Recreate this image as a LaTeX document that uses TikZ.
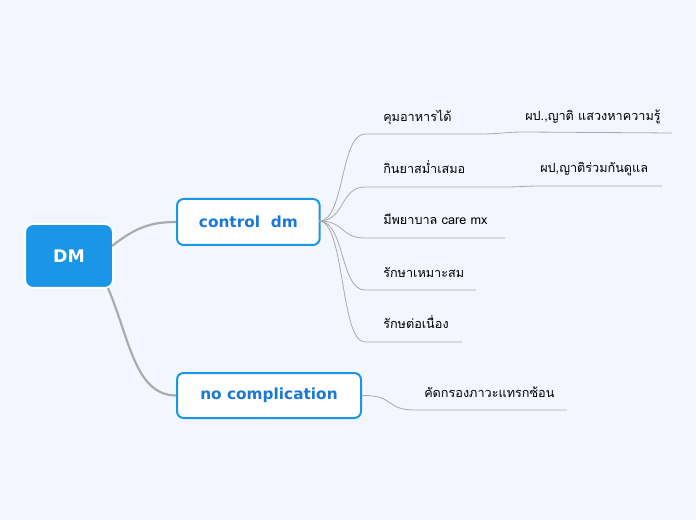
\documentclass[tikz,border=0pt]{standalone}
\usepackage{fontspec}
\setmainfont{DejaVu Sans}
\newfontfamily\thaifont[Script=Thai]{Loma}
\definecolor{bg}{HTML}{F3F6FE}
\definecolor{dmblue}{HTML}{1A96E6}
\definecolor{tblue}{HTML}{1A78D6}
\definecolor{ln}{HTML}{AAAAAA}
\begin{document}
\begin{tikzpicture}[x=0.75pt,y=-0.75pt,
  mainbox/.style={draw=dmblue,line width=1.5pt,rounded corners=5pt,fill=white,text=tblue,font=\bfseries\fontsize{11.5}{13}\selectfont,anchor=north west,inner sep=0pt},
  leaf/.style={font=\thaifont\fontsize{9.5}{11}\selectfont,anchor=base west,inner sep=0pt},
  br/.style={draw=ln,line width=0.6pt}]
\fill[bg] (0,0) rectangle (696,520);
\useasboundingbox (0,0) rectangle (696,520);
\node[draw=white,line width=1.5pt,fill=dmblue,rounded corners=6pt,text=white,font=\bfseries\fontsize{13}{15}\selectfont,minimum width=66pt,minimum height=48pt] (dm) at (69,256) {DM};
\node[mainbox,minimum width=107pt,minimum height=34.5pt] (c) at (176,198) {control\ \ dm};
\node[mainbox,minimum width=138pt,minimum height=33.75pt] (n) at (176,372) {no complication};
\draw[ln,line width=1.6pt] (112,246) .. controls (135,228) and (150,222) .. (c.west);
\draw[ln,line width=1.6pt] (108,288) .. controls (130,340) and (135,395) .. (n.west);
% leaves
\coordinate (cs) at (319,221);
\node[leaf] (l1) at (383,122) {คุมอาหารได้};
\node[leaf] (l2) at (383,174) {กินยาสม่ำเสมอ};
\node[leaf] (l3) at (383,225) {มีพยาบาล care mx};
\node[leaf] (l4) at (383,277) {รักษาเหมาะสม};
\node[leaf] (l5) at (383,329) {รักษต่อเนื่อง};
\node[leaf] (s1) at (525,121) {ผป.,ญาติ แสวงหาความรู้};
\node[leaf] (s2) at (540,173) {ผป,ญาติร่วมกันดูแล};
\node[leaf] (n1) at (424,397) {คัดกรองภาวะแทรกซ้อน};
\coordinate (e1) at (480,134); \coordinate (e2) at (505,187);
\coordinate (e3) at (505,238); \coordinate (e4) at (476,290); \coordinate (e5) at (462,342);
\foreach \e/\y in {e1/134,e2/187,e3/238,e4/290,e5/342}{
  \draw[br] (cs) .. controls (345,221) and (340,\y) .. (365,\y) -- (\e);
}
\draw[br] (e1) .. controls (500,134) and (505,132) .. (525,132) -- (672,133);
\draw[br] (e2) .. controls (520,187) and (525,186) .. (540,186) -- (662,186);
\draw[br] (n.east) .. controls (395,395) and (385,410) .. (415,410) -- (567,410);
\end{tikzpicture}
\end{document}
